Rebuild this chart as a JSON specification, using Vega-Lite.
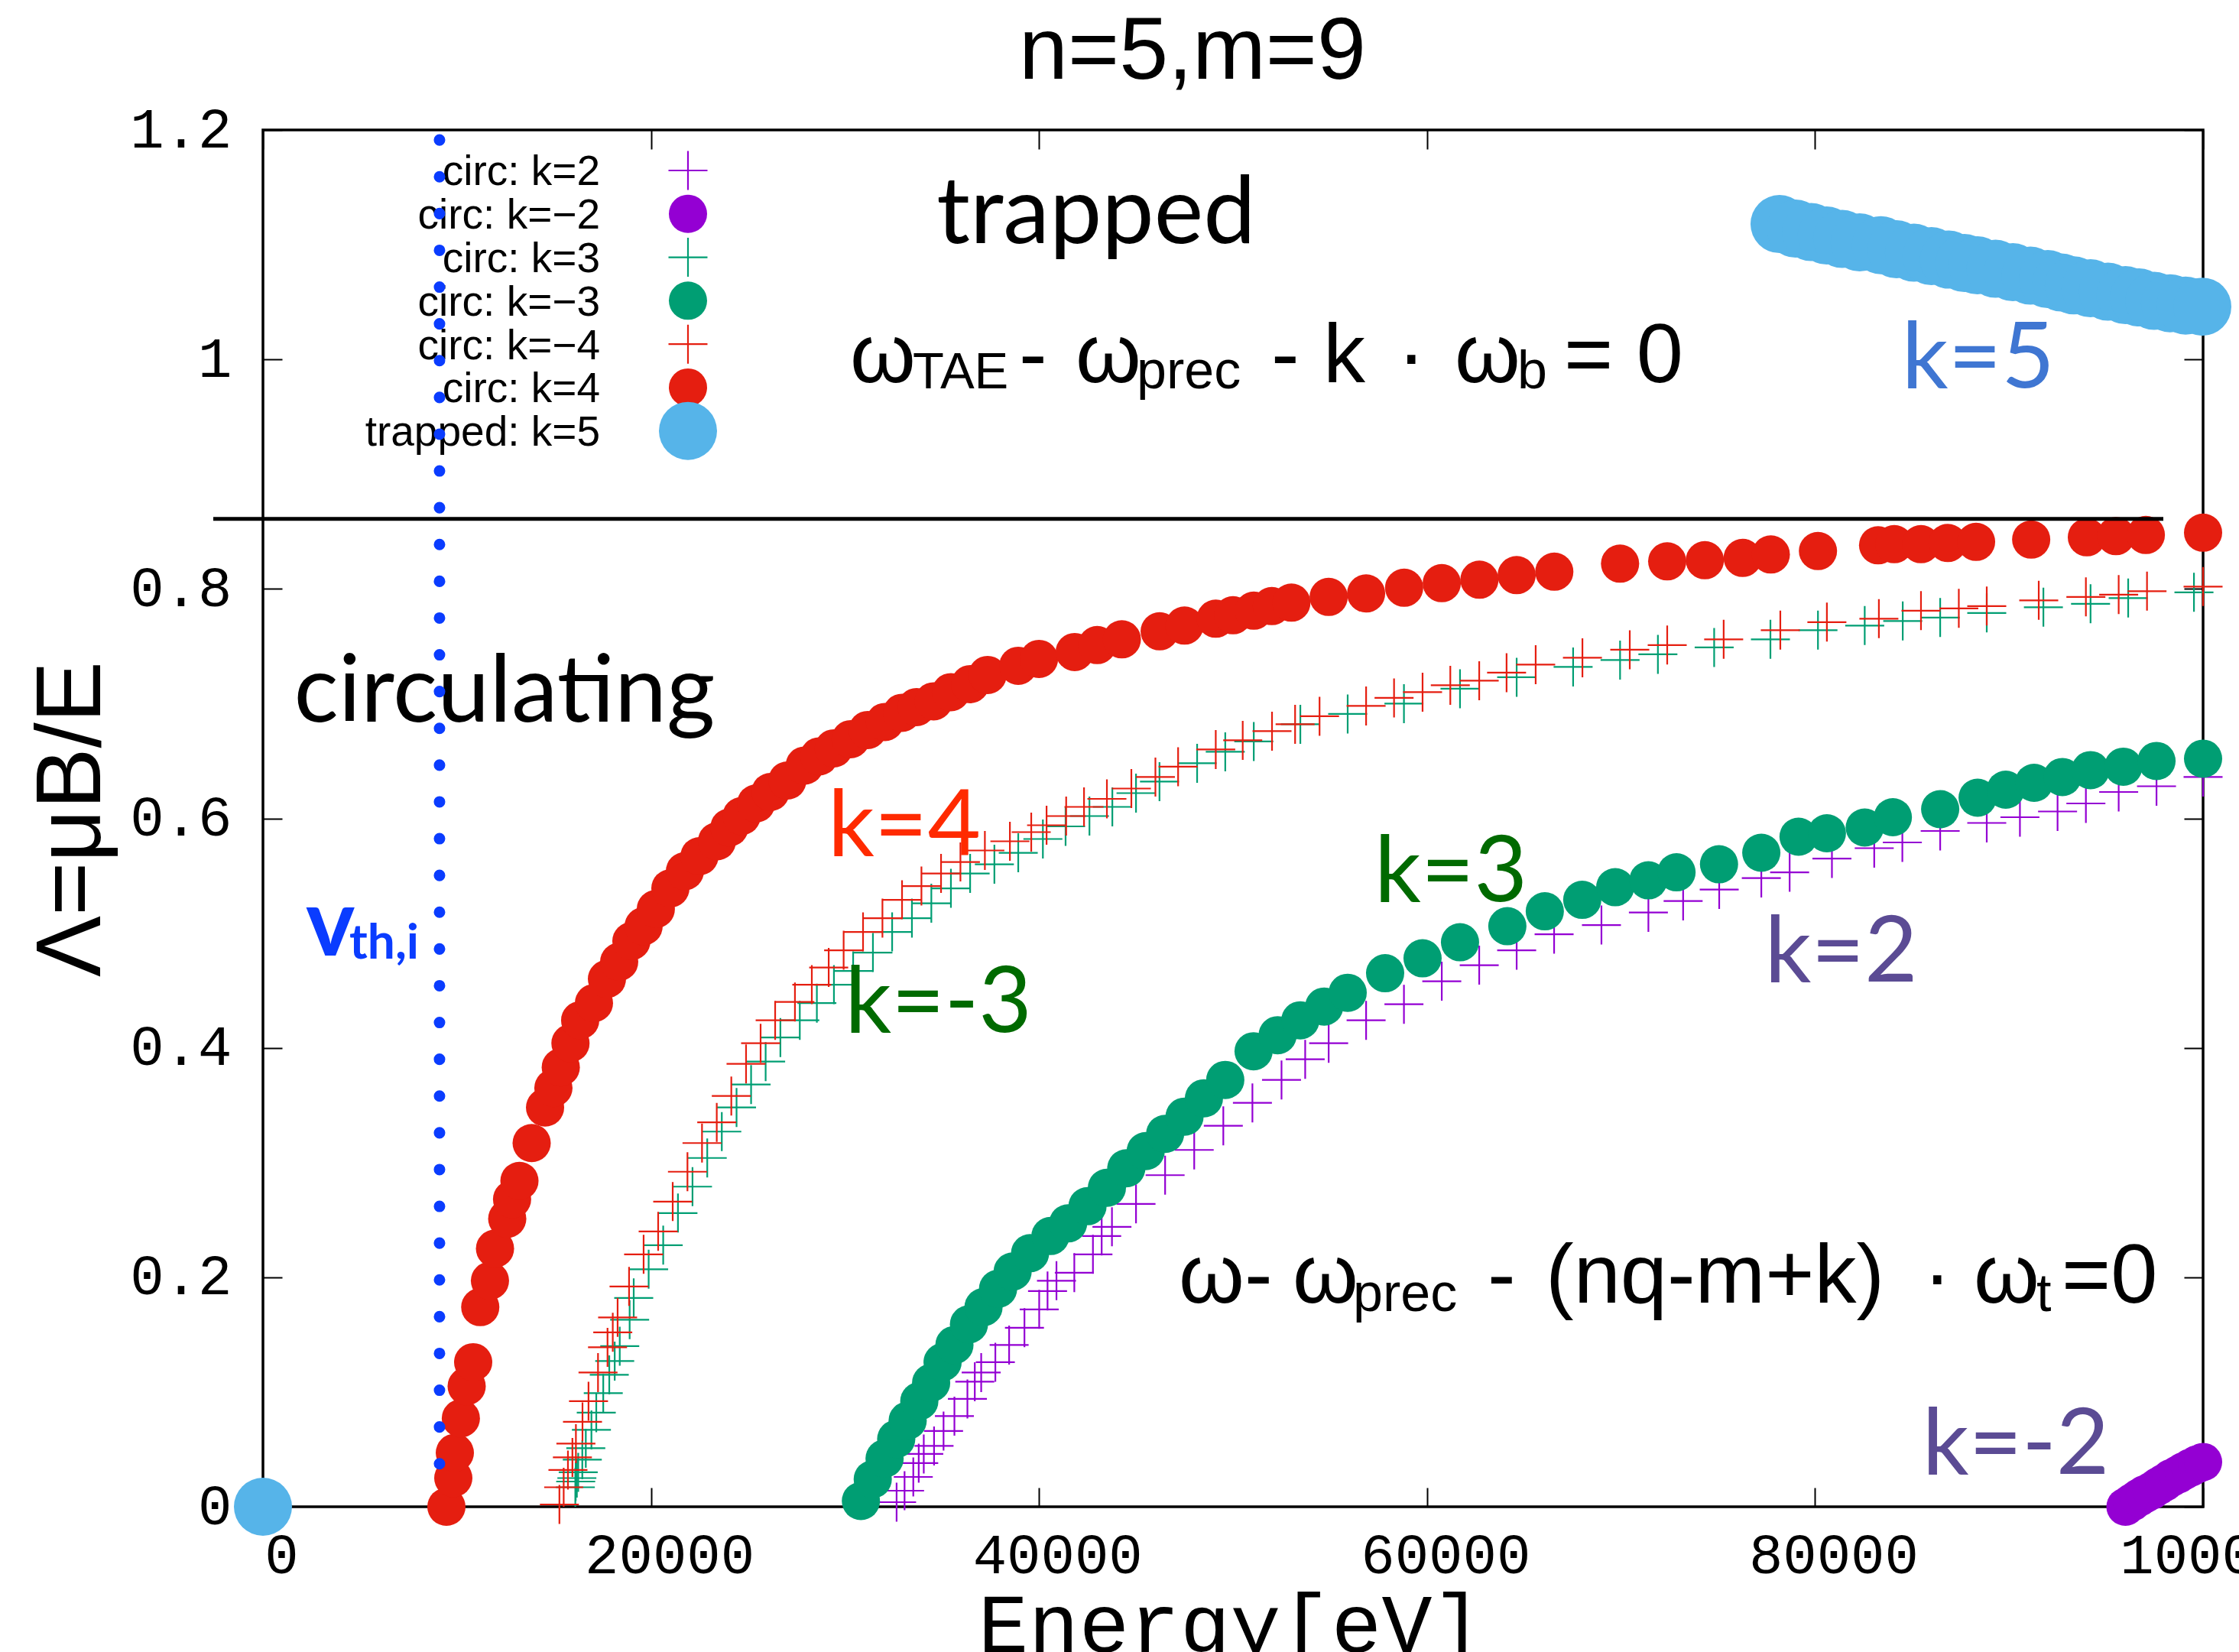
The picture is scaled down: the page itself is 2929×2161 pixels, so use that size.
{
"$schema": "https://vega.github.io/schema/vega-lite/v6.json",
"width": 2538, "height": 1801,
"autosize": {"type": "none"},
"padding": {"left": 344, "top": 170, "right": 47, "bottom": 190},
"background": "white",
"config": {"view": {"stroke": "black", "strokeWidth": 3.5}, "axis": {"grid": false, "domain": false}},
"resolve": {"axis": {"x": "independent", "y": "independent"}},
"datasets": {
"crosses": [
{"s":"circ: k=2","E":32660,"L":0.004},{"s":"circ: k=2","E":33070,"L":0.014},{"s":"circ: k=2","E":33520,"L":0.026},{"s":"circ: k=2","E":33800,"L":0.038},{"s":"circ: k=2","E":34060,"L":0.046},{"s":"circ: k=2","E":34590,"L":0.053},{"s":"circ: k=2","E":35080,"L":0.066},{"s":"circ: k=2","E":35640,"L":0.079},{"s":"circ: k=2","E":36310,"L":0.094},{"s":"circ: k=2","E":36690,"L":0.109},{"s":"circ: k=2","E":37020,"L":0.117},{"s":"circ: k=2","E":37750,"L":0.126},{"s":"circ: k=2","E":38460,"L":0.141},{"s":"circ: k=2","E":39250,"L":0.156},{"s":"circ: k=2","E":40010,"L":0.172},{"s":"circ: k=2","E":40440,"L":0.188},{"s":"circ: k=2","E":40900,"L":0.197},{"s":"circ: k=2","E":41820,"L":0.204},{"s":"circ: k=2","E":42780,"L":0.220},{"s":"circ: k=2","E":43230,"L":0.236},{"s":"circ: k=2","E":43760,"L":0.244},{"s":"circ: k=2","E":45000,"L":0.264},{"s":"circ: k=2","E":46500,"L":0.289},{"s":"circ: k=2","E":48000,"L":0.311},{"s":"circ: k=2","E":49500,"L":0.332},{"s":"circ: k=2","E":51000,"L":0.352},{"s":"circ: k=2","E":52500,"L":0.372},{"s":"circ: k=2","E":53720,"L":0.390},{"s":"circ: k=2","E":54930,"L":0.404},{"s":"circ: k=2","E":56860,"L":0.424},{"s":"circ: k=2","E":58810,"L":0.438},{"s":"circ: k=2","E":60760,"L":0.458},{"s":"circ: k=2","E":62690,"L":0.472},{"s":"circ: k=2","E":64620,"L":0.485},{"s":"circ: k=2","E":66550,"L":0.499},{"s":"circ: k=2","E":68990,"L":0.507},{"s":"circ: k=2","E":71410,"L":0.518},{"s":"circ: k=2","E":73200,"L":0.528},{"s":"circ: k=2","E":75060,"L":0.538},{"s":"circ: k=2","E":77230,"L":0.548},{"s":"circ: k=2","E":78690,"L":0.553},{"s":"circ: k=2","E":80870,"L":0.565},{"s":"circ: k=2","E":83050,"L":0.574},{"s":"circ: k=2","E":84500,"L":0.579},{"s":"circ: k=2","E":86450,"L":0.589},{"s":"circ: k=2","E":88850,"L":0.596},{"s":"circ: k=2","E":90560,"L":0.601},{"s":"circ: k=2","E":92500,"L":0.606},{"s":"circ: k=2","E":93960,"L":0.613},{"s":"circ: k=2","E":95650,"L":0.623},{"s":"circ: k=2","E":97600,"L":0.628},{"s":"circ: k=2","E":100000,"L":0.636},
{"s":"circ: k=3","E":16100,"L":0.017},{"s":"circ: k=3","E":16120,"L":0.022},{"s":"circ: k=3","E":16180,"L":0.025},{"s":"circ: k=3","E":16250,"L":0.030},{"s":"circ: k=3","E":16460,"L":0.041},{"s":"circ: k=3","E":16640,"L":0.051},{"s":"circ: k=3","E":16930,"L":0.067},{"s":"circ: k=3","E":17180,"L":0.082},{"s":"circ: k=3","E":17540,"L":0.099},{"s":"circ: k=3","E":17850,"L":0.115},{"s":"circ: k=3","E":18130,"L":0.127},{"s":"circ: k=3","E":18390,"L":0.140},{"s":"circ: k=3","E":18900,"L":0.163},{"s":"circ: k=3","E":19110,"L":0.182},{"s":"circ: k=3","E":19880,"L":0.207},{"s":"circ: k=3","E":20630,"L":0.228},{"s":"circ: k=3","E":21390,"L":0.256},{"s":"circ: k=3","E":22140,"L":0.279},{"s":"circ: k=3","E":22900,"L":0.304},{"s":"circ: k=3","E":23650,"L":0.327},{"s":"circ: k=3","E":24410,"L":0.348},{"s":"circ: k=3","E":25160,"L":0.368},{"s":"circ: k=3","E":25910,"L":0.388},{"s":"circ: k=3","E":26670,"L":0.409},{"s":"circ: k=3","E":27670,"L":0.424},{"s":"circ: k=3","E":28550,"L":0.439},{"s":"circ: k=3","E":29430,"L":0.455},{"s":"circ: k=3","E":30420,"L":0.467},{"s":"circ: k=3","E":31440,"L":0.483},{"s":"circ: k=3","E":32430,"L":0.501},{"s":"circ: k=3","E":33450,"L":0.513},{"s":"circ: k=3","E":34450,"L":0.526},{"s":"circ: k=3","E":35460,"L":0.539},{"s":"circ: k=3","E":36450,"L":0.552},{"s":"circ: k=3","E":37700,"L":0.560},{"s":"circ: k=3","E":38930,"L":0.570},{"s":"circ: k=3","E":40200,"L":0.582},{"s":"circ: k=3","E":41370,"L":0.593},{"s":"circ: k=3","E":42600,"L":0.602},{"s":"circ: k=3","E":43780,"L":0.610},{"s":"circ: k=3","E":45000,"L":0.622},{"s":"circ: k=3","E":46210,"L":0.632},{"s":"circ: k=3","E":48150,"L":0.648},{"s":"circ: k=3","E":49600,"L":0.658},{"s":"circ: k=3","E":51070,"L":0.667},{"s":"circ: k=3","E":53470,"L":0.682},{"s":"circ: k=3","E":55910,"L":0.691},{"s":"circ: k=3","E":58810,"L":0.700},{"s":"circ: k=3","E":61700,"L":0.713},{"s":"circ: k=3","E":64620,"L":0.723},{"s":"circ: k=3","E":67530,"L":0.732},{"s":"circ: k=3","E":69950,"L":0.738},{"s":"circ: k=3","E":71900,"L":0.743},{"s":"circ: k=3","E":74800,"L":0.749},{"s":"circ: k=3","E":77700,"L":0.756},{"s":"circ: k=3","E":80150,"L":0.764},{"s":"circ: k=3","E":82560,"L":0.768},{"s":"circ: k=3","E":84520,"L":0.772},{"s":"circ: k=3","E":86450,"L":0.775},{"s":"circ: k=3","E":88850,"L":0.779},{"s":"circ: k=3","E":91770,"L":0.784},{"s":"circ: k=3","E":94200,"L":0.787},{"s":"circ: k=3","E":96140,"L":0.792},{"s":"circ: k=3","E":99530,"L":0.797},
{"s":"circ: k=−4","E":15280,"L":0.002},{"s":"circ: k=−4","E":15500,"L":0.017},{"s":"circ: k=−4","E":15720,"L":0.032},{"s":"circ: k=−4","E":15950,"L":0.043},{"s":"circ: k=−4","E":16130,"L":0.055},{"s":"circ: k=−4","E":16470,"L":0.074},{"s":"circ: k=−4","E":16780,"L":0.092},{"s":"circ: k=−4","E":17270,"L":0.117},{"s":"circ: k=−4","E":17760,"L":0.139},{"s":"circ: k=−4","E":18030,"L":0.152},{"s":"circ: k=−4","E":18280,"L":0.165},{"s":"circ: k=−4","E":18870,"L":0.192},{"s":"circ: k=−4","E":19620,"L":0.220},{"s":"circ: k=−4","E":20370,"L":0.240},{"s":"circ: k=−4","E":21120,"L":0.266},{"s":"circ: k=−4","E":21880,"L":0.292},{"s":"circ: k=−4","E":22630,"L":0.317},{"s":"circ: k=−4","E":23390,"L":0.335},{"s":"circ: k=−4","E":24140,"L":0.358},{"s":"circ: k=−4","E":24900,"L":0.386},{"s":"circ: k=−4","E":25650,"L":0.404},{"s":"circ: k=−4","E":26400,"L":0.424},{"s":"circ: k=−4","E":27420,"L":0.440},{"s":"circ: k=−4","E":28290,"L":0.455},{"s":"circ: k=−4","E":29160,"L":0.470},{"s":"circ: k=−4","E":29930,"L":0.485},{"s":"circ: k=−4","E":30930,"L":0.501},{"s":"circ: k=−4","E":31930,"L":0.513},{"s":"circ: k=−4","E":32940,"L":0.529},{"s":"circ: k=−4","E":33940,"L":0.541},{"s":"circ: k=−4","E":34950,"L":0.552},{"s":"circ: k=−4","E":35950,"L":0.562},{"s":"circ: k=−4","E":37210,"L":0.572},{"s":"circ: k=−4","E":38500,"L":0.580},{"s":"circ: k=−4","E":39600,"L":0.588},{"s":"circ: k=−4","E":40390,"L":0.594},{"s":"circ: k=−4","E":41400,"L":0.602},{"s":"circ: k=−4","E":42320,"L":0.610},{"s":"circ: k=−4","E":43500,"L":0.617},{"s":"circ: k=−4","E":44760,"L":0.626},{"s":"circ: k=−4","E":46000,"L":0.636},{"s":"circ: k=−4","E":47170,"L":0.645},{"s":"circ: k=−4","E":49110,"L":0.660},{"s":"circ: k=−4","E":50500,"L":0.668},{"s":"circ: k=−4","E":52010,"L":0.676},{"s":"circ: k=−4","E":53200,"L":0.682},{"s":"circ: k=−4","E":54460,"L":0.689},{"s":"circ: k=−4","E":56860,"L":0.698},{"s":"circ: k=−4","E":58300,"L":0.705},{"s":"circ: k=−4","E":59770,"L":0.710},{"s":"circ: k=−4","E":61200,"L":0.716},{"s":"circ: k=−4","E":62690,"L":0.720},{"s":"circ: k=−4","E":64100,"L":0.727},{"s":"circ: k=−4","E":65600,"L":0.734},{"s":"circ: k=−4","E":68010,"L":0.740},{"s":"circ: k=−4","E":70450,"L":0.747},{"s":"circ: k=−4","E":72380,"L":0.751},{"s":"circ: k=−4","E":75290,"L":0.756},{"s":"circ: k=−4","E":78210,"L":0.764},{"s":"circ: k=−4","E":80610,"L":0.771},{"s":"circ: k=−4","E":83290,"L":0.774},{"s":"circ: k=−4","E":85460,"L":0.781},{"s":"circ: k=−4","E":87410,"L":0.783},{"s":"circ: k=−4","E":88850,"L":0.785},{"s":"circ: k=−4","E":91530,"L":0.790},{"s":"circ: k=−4","E":93960,"L":0.793},{"s":"circ: k=−4","E":95650,"L":0.795},{"s":"circ: k=−4","E":97110,"L":0.798},{"s":"circ: k=−4","E":100000,"L":0.802}
],
"circles": [
{"s":"circ: k=−2","E":96000,"L":0.000},{"s":"circ: k=−2","E":96350,"L":0.004},{"s":"circ: k=−2","E":96700,"L":0.008},{"s":"circ: k=−2","E":97000,"L":0.011},{"s":"circ: k=−2","E":97350,"L":0.014},{"s":"circ: k=−2","E":97700,"L":0.018},{"s":"circ: k=−2","E":98000,"L":0.021},{"s":"circ: k=−2","E":98350,"L":0.025},{"s":"circ: k=−2","E":98700,"L":0.028},{"s":"circ: k=−2","E":99000,"L":0.031},{"s":"circ: k=−2","E":99350,"L":0.034},{"s":"circ: k=−2","E":99700,"L":0.037},{"s":"circ: k=−2","E":100000,"L":0.039},
{"s":"circ: k=−3","E":30820,"L":0.005},{"s":"circ: k=−3","E":31430,"L":0.024},{"s":"circ: k=−3","E":32040,"L":0.042},{"s":"circ: k=−3","E":32640,"L":0.059},{"s":"circ: k=−3","E":33230,"L":0.075},{"s":"circ: k=−3","E":33830,"L":0.092},{"s":"circ: k=−3","E":34440,"L":0.108},{"s":"circ: k=−3","E":35030,"L":0.126},{"s":"circ: k=−3","E":35640,"L":0.141},{"s":"circ: k=−3","E":36390,"L":0.159},{"s":"circ: k=−3","E":37140,"L":0.174},{"s":"circ: k=−3","E":37890,"L":0.190},{"s":"circ: k=−3","E":38640,"L":0.205},{"s":"circ: k=−3","E":39540,"L":0.221},{"s":"circ: k=−3","E":40590,"L":0.236},{"s":"circ: k=−3","E":41500,"L":0.247},{"s":"circ: k=−3","E":42500,"L":0.262},{"s":"circ: k=−3","E":43500,"L":0.278},{"s":"circ: k=−3","E":44500,"L":0.295},{"s":"circ: k=−3","E":45500,"L":0.310},{"s":"circ: k=−3","E":46500,"L":0.325},{"s":"circ: k=−3","E":47500,"L":0.340},{"s":"circ: k=−3","E":48500,"L":0.356},{"s":"circ: k=−3","E":49600,"L":0.372},{"s":"circ: k=−3","E":51060,"L":0.397},{"s":"circ: k=−3","E":52300,"L":0.411},{"s":"circ: k=−3","E":53470,"L":0.424},{"s":"circ: k=−3","E":54700,"L":0.436},{"s":"circ: k=−3","E":55910,"L":0.448},{"s":"circ: k=−3","E":57840,"L":0.465},{"s":"circ: k=−3","E":59770,"L":0.478},{"s":"circ: k=−3","E":61700,"L":0.492},{"s":"circ: k=−3","E":64140,"L":0.506},{"s":"circ: k=−3","E":66070,"L":0.519},{"s":"circ: k=−3","E":68000,"L":0.529},{"s":"circ: k=−3","E":69700,"L":0.540},{"s":"circ: k=−3","E":71410,"L":0.546},{"s":"circ: k=−3","E":72860,"L":0.553},{"s":"circ: k=−3","E":75050,"L":0.560},{"s":"circ: k=−3","E":77230,"L":0.570},{"s":"circ: k=−3","E":79150,"L":0.584},{"s":"circ: k=−3","E":80610,"L":0.587},{"s":"circ: k=−3","E":82560,"L":0.592},{"s":"circ: k=−3","E":84010,"L":0.601},{"s":"circ: k=−3","E":86450,"L":0.608},{"s":"circ: k=−3","E":88380,"L":0.618},{"s":"circ: k=−3","E":89830,"L":0.625},{"s":"circ: k=−3","E":91290,"L":0.631},{"s":"circ: k=−3","E":92750,"L":0.636},{"s":"circ: k=−3","E":94200,"L":0.642},{"s":"circ: k=−3","E":95890,"L":0.645},{"s":"circ: k=−3","E":97600,"L":0.650},{"s":"circ: k=−3","E":100000,"L":0.652},
{"s":"circ: k=4","E":9456,"L":0.000},{"s":"circ: k=4","E":9811,"L":0.025},{"s":"circ: k=4","E":9890,"L":0.047},{"s":"circ: k=4","E":10200,"L":0.077},{"s":"circ: k=4","E":10500,"L":0.105},{"s":"circ: k=4","E":10835,"L":0.126},{"s":"circ: k=4","E":11200,"L":0.174},{"s":"circ: k=4","E":11700,"L":0.197},{"s":"circ: k=4","E":11960,"L":0.225},{"s":"circ: k=4","E":12590,"L":0.251},{"s":"circ: k=4","E":12840,"L":0.268},{"s":"circ: k=4","E":13220,"L":0.284},{"s":"circ: k=4","E":13850,"L":0.317},{"s":"circ: k=4","E":14540,"L":0.348},{"s":"circ: k=4","E":14970,"L":0.365},{"s":"circ: k=4","E":15350,"L":0.383},{"s":"circ: k=4","E":15850,"L":0.404},{"s":"circ: k=4","E":16350,"L":0.424},{"s":"circ: k=4","E":17060,"L":0.439},{"s":"circ: k=4","E":17730,"L":0.460},{"s":"circ: k=4","E":18360,"L":0.475},{"s":"circ: k=4","E":18990,"L":0.493},{"s":"circ: k=4","E":19620,"L":0.506},{"s":"circ: k=4","E":20250,"L":0.521},{"s":"circ: k=4","E":21000,"L":0.539},{"s":"circ: k=4","E":21750,"L":0.554},{"s":"circ: k=4","E":22500,"L":0.567},{"s":"circ: k=4","E":23400,"L":0.580},{"s":"circ: k=4","E":24040,"L":0.592},{"s":"circ: k=4","E":24670,"L":0.602},{"s":"circ: k=4","E":25420,"L":0.613},{"s":"circ: k=4","E":26160,"L":0.623},{"s":"circ: k=4","E":27030,"L":0.633},{"s":"circ: k=4","E":27920,"L":0.646},{"s":"circ: k=4","E":28670,"L":0.654},{"s":"circ: k=4","E":29420,"L":0.661},{"s":"circ: k=4","E":30290,"L":0.669},{"s":"circ: k=4","E":31170,"L":0.677},{"s":"circ: k=4","E":32060,"L":0.684},{"s":"circ: k=4","E":32940,"L":0.692},{"s":"circ: k=4","E":33690,"L":0.697},{"s":"circ: k=4","E":34570,"L":0.702},{"s":"circ: k=4","E":35460,"L":0.710},{"s":"circ: k=4","E":36450,"L":0.717},{"s":"circ: k=4","E":37350,"L":0.725},{"s":"circ: k=4","E":38930,"L":0.733},{"s":"circ: k=4","E":40000,"L":0.739},{"s":"circ: k=4","E":41840,"L":0.745},{"s":"circ: k=4","E":43000,"L":0.751},{"s":"circ: k=4","E":44270,"L":0.756},{"s":"circ: k=4","E":46220,"L":0.763},{"s":"circ: k=4","E":47500,"L":0.768},{"s":"circ: k=4","E":49110,"L":0.774},{"s":"circ: k=4","E":50000,"L":0.777},{"s":"circ: k=4","E":51070,"L":0.781},{"s":"circ: k=4","E":52000,"L":0.785},{"s":"circ: k=4","E":53010,"L":0.788},{"s":"circ: k=4","E":54930,"L":0.793},{"s":"circ: k=4","E":56860,"L":0.796},{"s":"circ: k=4","E":58820,"L":0.801},{"s":"circ: k=4","E":60760,"L":0.805},{"s":"circ: k=4","E":62700,"L":0.808},{"s":"circ: k=4","E":64620,"L":0.812},{"s":"circ: k=4","E":66560,"L":0.815},{"s":"circ: k=4","E":69950,"L":0.822},{"s":"circ: k=4","E":72380,"L":0.824},{"s":"circ: k=4","E":74320,"L":0.825},{"s":"circ: k=4","E":76270,"L":0.827},{"s":"circ: k=4","E":77720,"L":0.830},{"s":"circ: k=4","E":80150,"L":0.833},{"s":"circ: k=4","E":83250,"L":0.838},{"s":"circ: k=4","E":84080,"L":0.839},{"s":"circ: k=4","E":85460,"L":0.839},{"s":"circ: k=4","E":86840,"L":0.840},{"s":"circ: k=4","E":88300,"L":0.841},{"s":"circ: k=4","E":91140,"L":0.843},{"s":"circ: k=4","E":94010,"L":0.845},{"s":"circ: k=4","E":95510,"L":0.846},{"s":"circ: k=4","E":97050,"L":0.847},{"s":"circ: k=4","E":100000,"L":0.849}
],
"trapped": [
{"s":"trapped: k=5","E":0,"L":0},{"s":"trapped: k=5","E":78170,"L":1.118},{"s":"trapped: k=5","E":79000,"L":1.114},{"s":"trapped: k=5","E":79800,"L":1.111},{"s":"trapped: k=5","E":80600,"L":1.108},{"s":"trapped: k=5","E":81400,"L":1.105},{"s":"trapped: k=5","E":82300,"L":1.102},{"s":"trapped: k=5","E":83390,"L":1.0996},{"s":"trapped: k=5","E":84200,"L":1.096},{"s":"trapped: k=5","E":85100,"L":1.093},{"s":"trapped: k=5","E":86000,"L":1.090},{"s":"trapped: k=5","E":86900,"L":1.087},{"s":"trapped: k=5","E":87700,"L":1.084},{"s":"trapped: k=5","E":88370,"L":1.082},{"s":"trapped: k=5","E":89300,"L":1.079},{"s":"trapped: k=5","E":90200,"L":1.076},{"s":"trapped: k=5","E":91100,"L":1.073},{"s":"trapped: k=5","E":92000,"L":1.070},{"s":"trapped: k=5","E":92700,"L":1.067},{"s":"trapped: k=5","E":93340,"L":1.0645},{"s":"trapped: k=5","E":94200,"L":1.062},{"s":"trapped: k=5","E":95100,"L":1.059},{"s":"trapped: k=5","E":96000,"L":1.056},{"s":"trapped: k=5","E":96700,"L":1.054},{"s":"trapped: k=5","E":97480,"L":1.051},{"s":"trapped: k=5","E":98300,"L":1.049},{"s":"trapped: k=5","E":99100,"L":1.047},{"s":"trapped: k=5","E":99960,"L":1.046}
]
},
"layer": [
{"data": {"name": "crosses"},
 "mark": {"type": "point", "filled": false, "shape": "M-1,0L1,0M0,-1L0,1", "size": 2601, "strokeWidth": 2.2, "opacity": 1},
 "encoding": {
  "x": {"field": "E", "type": "quantitative", "scale": {"domain": [0, 100000], "nice": false, "zero": false},
        "axis": {"orient": "bottom", "values": [0, 20000, 40000, 60000, 80000, 100000], "format": "d", "ticks": true, "tickSize": -25, "tickWidth": 2, "tickColor": "black",
                 "labelFont": "Liberation Mono", "labelFontSize": 74, "labelColor": "black", "labelBaseline": "alphabetic", "labelPadding": 111, "labelOffset": 24, "labelLimit": 0, "labelOverlap": false, "labelBound": false, "labelFlush": false,
                 "title": "Energy[eV]", "titleFont": "Liberation Mono", "titleFontSize": 110, "titleFontWeight": "normal", "titleColor": "black", "titleX": 1265, "titleY": 189, "titleBaseline": "alphabetic", "titleAlign": "center"}},
  "y": {"field": "L", "type": "quantitative", "scale": {"domain": [0, 1.2], "nice": false, "zero": false},
        "axis": {"orient": "left", "values": [0, 0.2, 0.4, 0.6, 0.8, 1, 1.2], "format": "~g", "ticks": true, "tickSize": -25, "tickWidth": 2, "tickColor": "black",
                 "labelFont": "Liberation Mono", "labelFontSize": 74, "labelColor": "black", "labelAlign": "right", "labelBaseline": "middle", "labelPadding": 66, "labelLimit": 0, "labelOverlap": false, "labelBound": false, "labelFlush": false,
                 "title": "Λ=μB/E", "titleFont": "Liberation Sans", "titleFontSize": 120, "titleFontWeight": "normal", "titleColor": "black", "titleAngle": 270, "titleX": -214, "titleY": 901, "titleBaseline": "alphabetic", "titleAlign": "center"}},
  "color": {"field": "s", "type": "nominal", "legend": null,
            "scale": {"domain": ["circ: k=2", "circ: k=−2", "circ: k=3", "circ: k=−3", "circ: k=−4", "circ: k=4", "trapped: k=5"], "range": ["#9400d3", "#9400d3", "#009e73", "#009e73", "#e51e10", "#e51e10", "#56b4e9"]}}
 }},
{"data": {"name": "circles"},
 "mark": {"type": "point", "filled": true, "shape": "circle", "size": 2500, "strokeWidth": 0, "opacity": 1},
 "encoding": {
  "x": {"field": "E", "type": "quantitative", "axis": {"orient": "top", "values": [0, 20000, 40000, 60000, 80000, 100000], "labels": false, "title": null, "ticks": true, "tickSize": -25, "tickWidth": 2, "tickColor": "black"}},
  "y": {"field": "L", "type": "quantitative", "axis": {"orient": "right", "values": [0, 0.2, 0.4, 0.6, 0.8, 1, 1.2], "labels": false, "title": null, "ticks": true, "tickSize": -25, "tickWidth": 2, "tickColor": "black"}},
  "color": {"field": "s", "type": "nominal", "legend": null}
 }},
{"data": {"name": "trapped"},
 "mark": {"type": "point", "filled": true, "shape": "circle", "size": 5776, "strokeWidth": 0, "opacity": 1},
 "encoding": {
  "x": {"field": "E", "type": "quantitative", "axis": null},
  "y": {"field": "L", "type": "quantitative", "axis": null},
  "color": {"field": "s", "type": "nominal", "legend": null}
 }},
{"data": {"values": [{}]},
 "layer": [
  {"mark": {"type": "point", "filled": false, "shape": "M-1,0L1,0M0,-1L0,1", "size": 2601, "strokeWidth": 2.2, "opacity": 1},
   "encoding": {"x": {"datum": 21907, "type": "quantitative", "axis": null}, "y": {"datum": 1.1647, "type": "quantitative", "axis": null}, "color": {"datum": "circ: k=2", "type": "nominal", "legend": null}}},
  {"mark": {"type": "point", "filled": true, "shape": "circle", "size": 2500, "strokeWidth": 0, "opacity": 1},
   "encoding": {"x": {"datum": 21907, "type": "quantitative", "axis": null}, "y": {"datum": 1.1269, "type": "quantitative", "axis": null}, "color": {"datum": "circ: k=−2", "type": "nominal", "legend": null}}},
  {"mark": {"type": "point", "filled": false, "shape": "M-1,0L1,0M0,-1L0,1", "size": 2601, "strokeWidth": 2.2, "opacity": 1},
   "encoding": {"x": {"datum": 21907, "type": "quantitative", "axis": null}, "y": {"datum": 1.0890, "type": "quantitative", "axis": null}, "color": {"datum": "circ: k=3", "type": "nominal", "legend": null}}},
  {"mark": {"type": "point", "filled": true, "shape": "circle", "size": 2500, "strokeWidth": 0, "opacity": 1},
   "encoding": {"x": {"datum": 21907, "type": "quantitative", "axis": null}, "y": {"datum": 1.0512, "type": "quantitative", "axis": null}, "color": {"datum": "circ: k=−3", "type": "nominal", "legend": null}}},
  {"mark": {"type": "point", "filled": false, "shape": "M-1,0L1,0M0,-1L0,1", "size": 2601, "strokeWidth": 2.2, "opacity": 1},
   "encoding": {"x": {"datum": 21907, "type": "quantitative", "axis": null}, "y": {"datum": 1.0133, "type": "quantitative", "axis": null}, "color": {"datum": "circ: k=−4", "type": "nominal", "legend": null}}},
  {"mark": {"type": "point", "filled": true, "shape": "circle", "size": 2500, "strokeWidth": 0, "opacity": 1},
   "encoding": {"x": {"datum": 21907, "type": "quantitative", "axis": null}, "y": {"datum": 0.9755, "type": "quantitative", "axis": null}, "color": {"datum": "circ: k=4", "type": "nominal", "legend": null}}},
  {"mark": {"type": "point", "filled": true, "shape": "circle", "size": 5776, "strokeWidth": 0, "opacity": 1},
   "encoding": {"x": {"datum": 21907, "type": "quantitative", "axis": null}, "y": {"datum": 0.9377, "type": "quantitative", "axis": null}, "color": {"datum": "trapped: k=5", "type": "nominal", "legend": null}}},
  {"mark": {"type": "text", "text": ["circ: k=2", "circ: k=−2", "circ: k=3", "circ: k=−3", "circ: k=−4", "circ: k=4", "trapped: k=5"], "lineHeight": 56.8, "font": "Liberation Sans", "fontSize": 55, "align": "right", "baseline": "alphabetic", "color": "black"},
   "encoding": {"x": {"datum": 17376, "type": "quantitative", "axis": null}, "y": {"datum": 1.1518, "type": "quantitative", "axis": null}}},
  {"mark": {"type": "text", "text": "n=5,m=9", "font": "Liberation Sans", "fontSize": 115, "align": "center", "baseline": "alphabetic", "color": "black"},
   "encoding": {"x": {"datum": 47912, "type": "quantitative", "axis": null}, "y": {"datum": 1.2447, "type": "quantitative", "axis": null}}},
  {"mark": {"type": "text", "text": "trapped", "font": "Lato", "fontSize": 122, "align": "center", "baseline": "alphabetic", "color": "black"},
   "encoding": {"x": {"datum": 42940, "type": "quantitative", "axis": null}, "y": {"datum": 1.1014, "type": "quantitative", "axis": null}}},
  {"mark": {"type": "text", "text": "circulating", "font": "Lato", "fontSize": 122, "align": "center", "baseline": "alphabetic", "color": "black"},
   "encoding": {"x": {"datum": 12450, "type": "quantitative", "axis": null}, "y": {"datum": 0.6843, "type": "quantitative", "axis": null}}},
  {"mark": {"type": "text", "text": "k=5", "font": "Lato", "fontSize": 120, "align": "center", "baseline": "alphabetic", "color": "#3f76d2"},
   "encoding": {"x": {"datum": 88410, "type": "quantitative", "axis": null}, "y": {"datum": 0.9757, "type": "quantitative", "axis": null}}},
  {"mark": {"type": "text", "text": "k=4", "font": "Lato", "fontSize": 120, "align": "center", "baseline": "alphabetic", "color": "#ff2a00"},
   "encoding": {"x": {"datum": 33057, "type": "quantitative", "axis": null}, "y": {"datum": 0.5679, "type": "quantitative", "axis": null}}},
  {"mark": {"type": "text", "text": "k=-3", "font": "Lato", "fontSize": 120, "align": "center", "baseline": "alphabetic", "color": "#006a00"},
   "encoding": {"x": {"datum": 34815, "type": "quantitative", "axis": null}, "y": {"datum": 0.4138, "type": "quantitative", "axis": null}}},
  {"mark": {"type": "text", "text": "k=3", "font": "Lato", "fontSize": 120, "align": "center", "baseline": "alphabetic", "color": "#006a00"},
   "encoding": {"x": {"datum": 61230, "type": "quantitative", "axis": null}, "y": {"datum": 0.5277, "type": "quantitative", "axis": null}}},
  {"mark": {"type": "text", "text": "k=2", "font": "Lato", "fontSize": 120, "align": "center", "baseline": "alphabetic", "color": "#5b4b94"},
   "encoding": {"x": {"datum": 81345, "type": "quantitative", "axis": null}, "y": {"datum": 0.4580, "type": "quantitative", "axis": null}}},
  {"mark": {"type": "text", "text": "k=-2", "font": "Lato", "fontSize": 120, "align": "center", "baseline": "alphabetic", "color": "#5b4b94"},
   "encoding": {"x": {"datum": 90350, "type": "quantitative", "axis": null}, "y": {"datum": 0.02845, "type": "quantitative", "axis": null}}},
  {"mark": {"type": "text", "text": "v", "font": "Lato", "fontSize": 122, "fontWeight": "bold", "align": "left", "baseline": "alphabetic", "color": "#0a3cff"},
   "encoding": {"x": {"datum": 2206, "type": "quantitative", "axis": null}, "y": {"datum": 0.4802, "type": "quantitative", "axis": null}}},
  {"mark": {"type": "text", "text": "th,i", "font": "Lato", "fontSize": 64, "fontWeight": "bold", "align": "left", "baseline": "alphabetic", "color": "#0a3cff"},
   "encoding": {"x": {"datum": 4452, "type": "quantitative", "axis": null}, "y": {"datum": 0.4777, "type": "quantitative", "axis": null}}},
  {"mark": {"type": "text", "text": "ω", "font": "Liberation Sans", "fontSize": 110, "align": "left", "baseline": "alphabetic", "color": "black"},
   "encoding": {"x": {"datum": 30260, "type": "quantitative", "axis": null}, "y": {"datum": 0.9801, "type": "quantitative", "axis": null}}},
  {"mark": {"type": "text", "text": "TAE", "font": "Liberation Sans", "fontSize": 67, "align": "left", "baseline": "alphabetic", "color": "black"},
   "encoding": {"x": {"datum": 33490, "type": "quantitative", "axis": null}, "y": {"datum": 0.9748, "type": "quantitative", "axis": null}}},
  {"mark": {"type": "text", "text": "-", "font": "Liberation Sans", "fontSize": 110, "align": "left", "baseline": "alphabetic", "color": "black"},
   "encoding": {"x": {"datum": 38968, "type": "quantitative", "axis": null}, "y": {"datum": 0.9801, "type": "quantitative", "axis": null}}},
  {"mark": {"type": "text", "text": "ω", "font": "Liberation Sans", "fontSize": 110, "align": "left", "baseline": "alphabetic", "color": "black"},
   "encoding": {"x": {"datum": 41883, "type": "quantitative", "axis": null}, "y": {"datum": 0.9801, "type": "quantitative", "axis": null}}},
  {"mark": {"type": "text", "text": "prec", "font": "Liberation Sans", "fontSize": 70, "align": "left", "baseline": "alphabetic", "color": "black"},
   "encoding": {"x": {"datum": 45035, "type": "quantitative", "axis": null}, "y": {"datum": 0.9748, "type": "quantitative", "axis": null}}},
  {"mark": {"type": "text", "text": "-", "font": "Liberation Sans", "fontSize": 110, "align": "left", "baseline": "alphabetic", "color": "black"},
   "encoding": {"x": {"datum": 51970, "type": "quantitative", "axis": null}, "y": {"datum": 0.9801, "type": "quantitative", "axis": null}}},
  {"mark": {"type": "text", "text": "k", "font": "Liberation Sans", "fontSize": 110, "align": "left", "baseline": "alphabetic", "color": "black"},
   "encoding": {"x": {"datum": 54649, "type": "quantitative", "axis": null}, "y": {"datum": 0.9801, "type": "quantitative", "axis": null}}},
  {"mark": {"type": "text", "text": "·", "font": "Liberation Sans", "fontSize": 110, "align": "left", "baseline": "alphabetic", "color": "black"},
   "encoding": {"x": {"datum": 58471, "type": "quantitative", "axis": null}, "y": {"datum": 0.9801, "type": "quantitative", "axis": null}}},
  {"mark": {"type": "text", "text": "ω", "font": "Liberation Sans", "fontSize": 110, "align": "left", "baseline": "alphabetic", "color": "black"},
   "encoding": {"x": {"datum": 61426, "type": "quantitative", "axis": null}, "y": {"datum": 0.9801, "type": "quantitative", "axis": null}}},
  {"mark": {"type": "text", "text": "b", "font": "Liberation Sans", "fontSize": 70, "align": "left", "baseline": "alphabetic", "color": "black"},
   "encoding": {"x": {"datum": 64657, "type": "quantitative", "axis": null}, "y": {"datum": 0.9748, "type": "quantitative", "axis": null}}},
  {"mark": {"type": "text", "text": "= 0", "font": "Liberation Sans", "fontSize": 110, "align": "left", "baseline": "alphabetic", "color": "black"},
   "encoding": {"x": {"datum": 67061, "type": "quantitative", "axis": null}, "y": {"datum": 0.9801, "type": "quantitative", "axis": null}}},
  {"mark": {"type": "text", "text": "ω-", "font": "Liberation Sans", "fontSize": 110, "align": "left", "baseline": "alphabetic", "color": "black"},
   "encoding": {"x": {"datum": 47203, "type": "quantitative", "axis": null}, "y": {"datum": 0.1779, "type": "quantitative", "axis": null}}},
  {"mark": {"type": "text", "text": "ω", "font": "Liberation Sans", "fontSize": 110, "align": "left", "baseline": "alphabetic", "color": "black"},
   "encoding": {"x": {"datum": 53073, "type": "quantitative", "axis": null}, "y": {"datum": 0.1779, "type": "quantitative", "axis": null}}},
  {"mark": {"type": "text", "text": "prec", "font": "Liberation Sans", "fontSize": 70, "align": "left", "baseline": "alphabetic", "color": "black"},
   "encoding": {"x": {"datum": 56186, "type": "quantitative", "axis": null}, "y": {"datum": 0.1706, "type": "quantitative", "axis": null}}},
  {"mark": {"type": "text", "text": "-", "font": "Liberation Sans", "fontSize": 110, "align": "left", "baseline": "alphabetic", "color": "black"},
   "encoding": {"x": {"datum": 63120, "type": "quantitative", "axis": null}, "y": {"datum": 0.1779, "type": "quantitative", "axis": null}}},
  {"mark": {"type": "text", "text": "(nq-m+k)", "font": "Liberation Sans", "fontSize": 110, "align": "left", "baseline": "alphabetic", "color": "black"},
   "encoding": {"x": {"datum": 66115, "type": "quantitative", "axis": null}, "y": {"datum": 0.1779, "type": "quantitative", "axis": null}}},
  {"mark": {"type": "text", "text": "·", "font": "Liberation Sans", "fontSize": 110, "align": "left", "baseline": "alphabetic", "color": "black"},
   "encoding": {"x": {"datum": 85580, "type": "quantitative", "axis": null}, "y": {"datum": 0.1779, "type": "quantitative", "axis": null}}},
  {"mark": {"type": "text", "text": "ω", "font": "Liberation Sans", "fontSize": 110, "align": "left", "baseline": "alphabetic", "color": "black"},
   "encoding": {"x": {"datum": 88180, "type": "quantitative", "axis": null}, "y": {"datum": 0.1779, "type": "quantitative", "axis": null}}},
  {"mark": {"type": "text", "text": "t", "font": "Liberation Sans", "fontSize": 70, "align": "left", "baseline": "alphabetic", "color": "black"},
   "encoding": {"x": {"datum": 91410, "type": "quantitative", "axis": null}, "y": {"datum": 0.1706, "type": "quantitative", "axis": null}}},
  {"mark": {"type": "text", "text": "=0", "font": "Liberation Sans", "fontSize": 110, "align": "left", "baseline": "alphabetic", "color": "black"},
   "encoding": {"x": {"datum": 92711, "type": "quantitative", "axis": null}, "y": {"datum": 0.1779, "type": "quantitative", "axis": null}}},
  {"mark": {"type": "rule", "color": "black", "strokeWidth": 5},
   "encoding": {"x": {"datum": -2561, "type": "quantitative", "axis": null}, "x2": {"datum": 97951}, "y": {"datum": 0.861, "type": "quantitative", "axis": null}}},
  {"mark": {"type": "rule", "color": "#0a3cff", "strokeWidth": 15, "strokeCap": "round", "strokeDash": [0.1, 48], "strokeDashOffset": 35},
   "encoding": {"x": {"datum": 9100, "type": "quantitative", "axis": null}, "y": {"datum": 1.2, "type": "quantitative", "axis": null}, "y2": {"datum": 0.01}}}
 ]}
]
}
